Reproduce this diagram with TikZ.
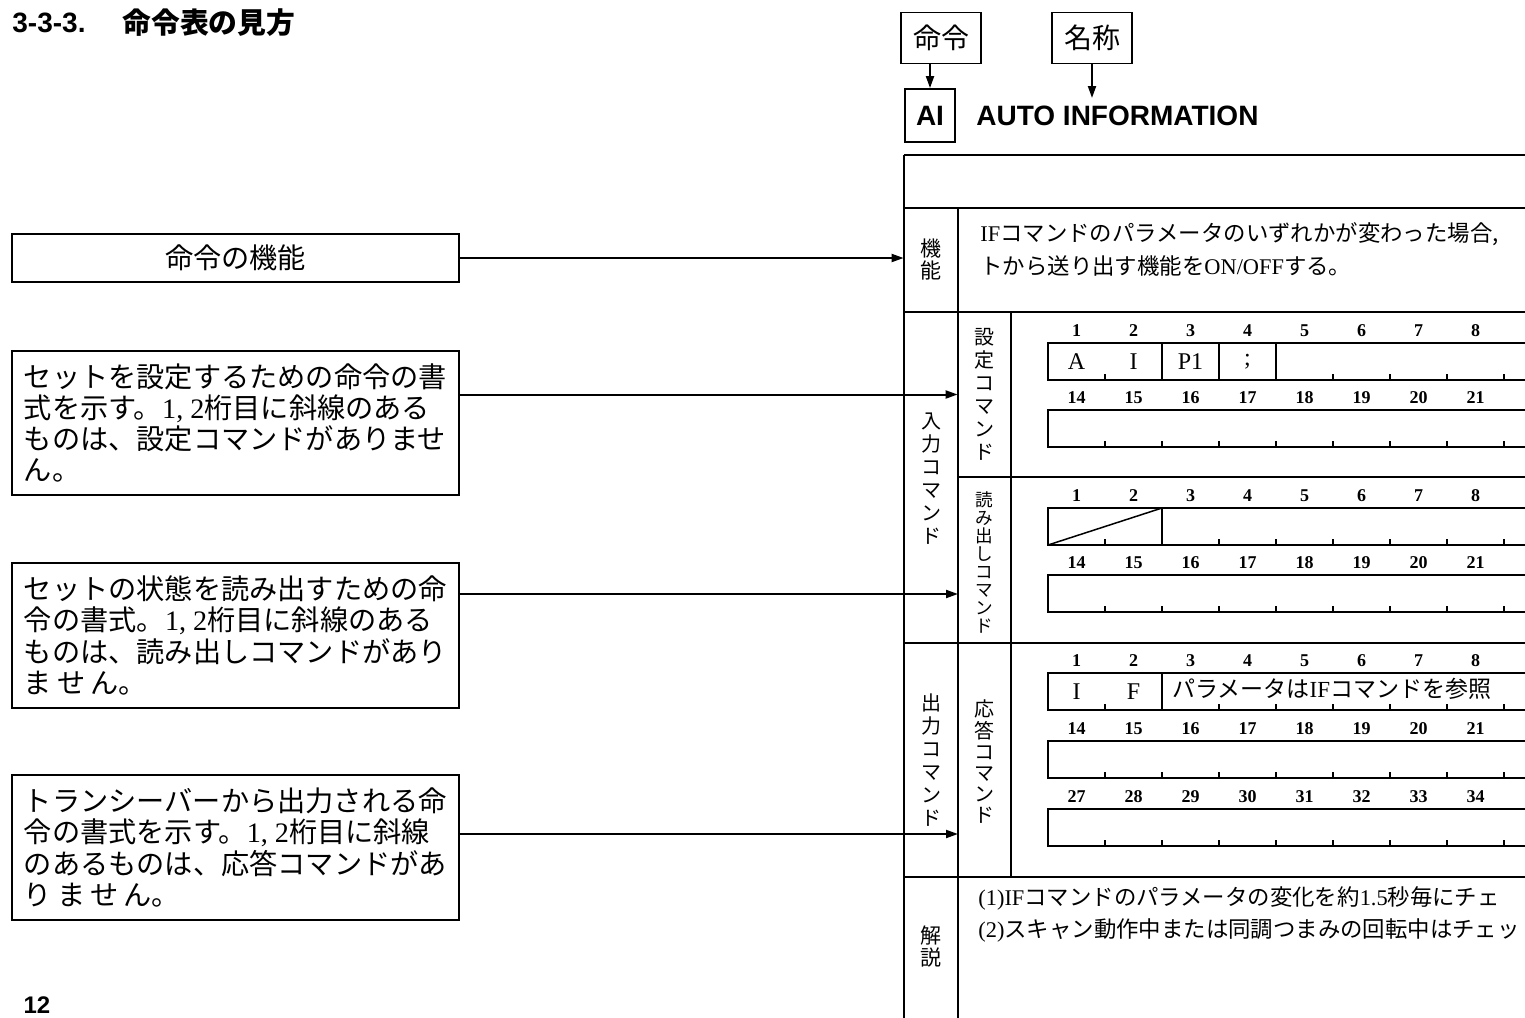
\documentclass[tikz,border=0pt]{standalone}
\usepackage{fontspec}
\setmainfont{Liberation Serif}
\newfontfamily\jp{Noto Sans CJK JP}
\newfontfamily\lat{Liberation Serif}
\newfontfamily\sansb{Liberation Sans}
\usetikzlibrary{arrows.meta}
\newcommand\gridrow[2]{%
  \draw[gline] (1048,#1) rectangle (1600,#1+37);
  \foreach \k in {1,...,8}{%
    \draw[gline] (1048+57*\k,#1+37) -- ++(0,-6);
    \pgfmathtruncatemacro\gn{\k+#2-1}%
    \node[num] (n-#1-\k) at (1048+57*\k-28.5,#1-12) {\gn};
  }%
}
\begin{document}
\begin{tikzpicture}[x=0.5pt,y=-0.5pt,
  tline/.style={line width=1pt},
  gline/.style={line width=0.75pt},
  conn/.style={line width=1pt,-{Triangle[length=6pt,width=4pt]}},
  lbox/.style={draw,line width=0.9pt,minimum width=223.5pt,inner sep=0pt,
    font=\jp\fontsize{14.1}{15.6}\selectfont,align=left},
  hbox/.style={draw,line width=0.9pt,minimum width=40pt,minimum height=25.5pt,
    font=\jp\fontsize{14}{16}\selectfont},
  vlab/.style={font=\jp\fontsize{10}{11.5}\selectfont,align=center,inner sep=0pt},
  num/.style={font=\fontsize{9}{10}\bfseries\selectfont,inner sep=0pt},
  cellch/.style={font=\fontsize{12}{14}\selectfont,inner sep=0pt},
  btxt/.style={font=\jp\fontsize{11.2}{14}\selectfont,anchor=west,inner sep=0pt,align=left}]
\useasboundingbox (0,0) rectangle (1525,1017);
\clip (0,0) rectangle (1525,1017);

% title and page number
\node[anchor=west,inner sep=0pt,font=\sansb\bfseries\fontsize{14}{16}\selectfont] (tnum) at (12,23) {3-3-3.};
\node[anchor=west,inner sep=0pt,font=\jp\bfseries\fontsize{14.4}{16}\selectfont] (ttl) at (122,23) {命令表の見方};
\node[inner sep=0pt,font=\sansb\bfseries\fontsize{12}{14}\selectfont] (pg) at (37,1005) {12};

% header
\node[hbox] (cmd) at (941,38) {命令};
\node[hbox] (name) at (1092,38) {名称};
\node[hbox,minimum width=25pt,minimum height=26.5pt,font=\sansb\bfseries\fontsize{14}{16}\selectfont] (ai) at (930,115.5) {AI};
\node[anchor=west,inner sep=0pt,font=\sansb\bfseries\fontsize{14}{16}\selectfont] (auto) at (976,116) {AUTO INFORMATION};
\coordinate (nameend) at (1092,98);
\draw[conn] (cmd.south -| ai.north) -- (ai.north);
\draw[conn] (name.south) -- (nameend);

% table frame
\draw[tline] (904,155) -- (1600,155);
\draw[tline] (904,155) -- (904,1100);
\draw[tline] (904,208) -- (1600,208);
\draw[tline] (958,208) -- (958,1100);
\draw[tline] (904,312) -- (1600,312);
\draw[tline] (1011,312) -- (1011,877);
\draw[tline] (958,477) -- (1600,477);
\draw[tline] (904,643) -- (1600,643);
\draw[tline] (904,877) -- (1600,877);

% row labels
\node[vlab,font=\jp\fontsize{10.5}{11}\selectfont,minimum width=27pt,minimum height=52pt] (kinou) at (931,260) {機\\能};
\node[vlab,minimum width=27pt,minimum height=165.5pt] (nyu) at (931,479) {入\\力\\コ\\マ\\ン\\ド};
\node[vlab,minimum width=27pt,minimum height=117pt] (shutsu) at (931,760) {出\\力\\コ\\マ\\ン\\ド};
\node[vlab,font=\jp\fontsize{10.5}{11}\selectfont] (kaisetsu) at (931,947) {解\\説};
\node[vlab,minimum width=26.5pt,minimum height=82.5pt] (settei) at (984.5,394.5) {設\\定\\コ\\マ\\ン\\ド};
\node[vlab,font=\jp\fontsize{8.8}{9}\selectfont,minimum width=26.5pt,minimum height=83pt] (yomi) at (984.5,562) {読\\み\\出\\し\\コ\\マ\\ン\\ド};
\node[vlab,font=\jp\fontsize{10}{10.6}\selectfont,minimum width=26.5pt,minimum height=117pt] (outou) at (984.5,762) {応\\答\\コ\\マ\\ン\\ド};

% function text
\node[btxt] (ftext1) at (980,234) {{\lat IF}コマンドのパラメータのいずれかが変わった場合,};
\node[btxt] (ftext2) at (980,266) {トから送り出す機能を{\lat ON/OFF}する。};

% set command grid
\gridrow{343}{1}
\gridrow{410}{14}
\draw[gline] (1162,343) -- (1162,380) (1219,343) -- (1219,380) (1276,343) -- (1276,380);
\node[cellch] (sA) at (1076.5,362) {A};
\node[cellch] (sI) at (1133.5,362) {I};
\node[cellch] (sP) at (1190.5,362) {P1};
\node[cellch] (sS) at (1247.5,362) {;};

% read command grid
\gridrow{508}{1}
\gridrow{575}{14}
\draw[gline] (1162,508) -- (1162,545);
\draw[gline] (1048,545) -- (1162,508);

% answer command grid
\gridrow{673}{1}
\gridrow{741}{14}
\gridrow{809}{27}
\draw[gline] (1162,673) -- (1162,710);
\node[cellch] (aI) at (1076.5,692) {I};
\node[cellch] (aF) at (1133.5,692) {F};
\node[btxt,font=\jp\fontsize{11.5}{14}\selectfont] (aref) at (1172,689) {パラメータは{\lat IF}コマンドを参照};

% explanation
\node[btxt] (ex1) at (978,898) {{\lat (1)IF}コマンドのパラメータの変化を約{\lat 1.5}秒毎にチェ};
\node[btxt] (ex2) at (978,930) {{\lat (2)}スキャン動作中または同調つまみの回転中はチェッ};

% left boxes
\node[lbox,minimum height=24pt,align=center] (f1) at (235.5,258) {命令の機能};
\node[lbox,minimum height=72pt] (f2) at (235.5,423) {セットを設定するための命令の書\\式を示す。{\lat 1, 2}桁目に斜線のある\\ものは、設定コマンドがありませ\\ん。};
\node[lbox,minimum height=72.5pt] (f3) at (235.5,635.5) {セットの状態を読み出すための命\\令の書式。{\lat 1, 2}桁目に斜線のある\\ものは、読み出しコマンドがあり\\ま\hspace{2.5pt}せ\hspace{2.5pt}ん。};
\node[lbox,minimum height=72.5pt] (f4) at (235.5,847.5) {トランシーバーから出力される命\\令の書式を示す。{\lat 1, 2}桁目に斜線\\のあるものは、応答コマンドがあ\\り\hspace{2.5pt}ま\hspace{2.5pt}せ\hspace{2.5pt}ん。};

% connectors
\coordinate (yin) at (958,594);
\coordinate (oin) at (958,834);
\draw[conn] (f1.east) -- (f1.east -| kinou.west);
\draw[conn] (f2.east |- settei.west) -- (settei.west);
\draw[conn] (f3.east |- yin) -- (yin);
\draw[conn] (f4.east |- oin) -- (oin);
\end{tikzpicture}
\end{document}
